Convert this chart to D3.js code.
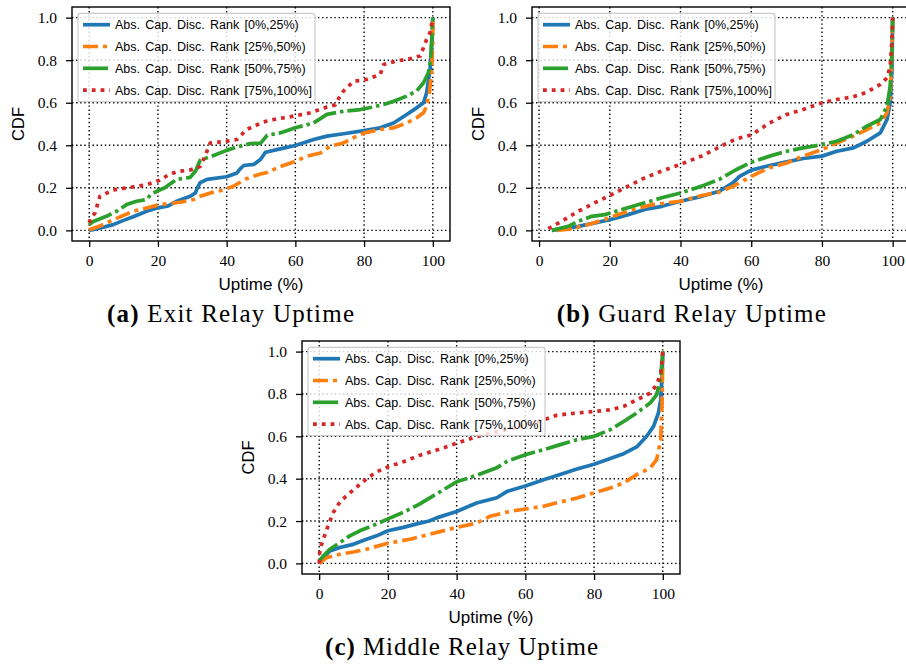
<!DOCTYPE html>
<html>
<head>
<meta charset="utf-8">
<script src="https://cdn.jsdelivr.net/npm/d3@7"></script>
<style>
  body { margin: 0; background: #fff; }
</style>
</head>
<body>
<svg id="vis"></svg>
<script>
// values (uptime %, cdf)
const seriesLabels = [
    "Abs. Cap. Disc. Rank [0%,25%)",
    "Abs. Cap. Disc. Rank [25%,50%)",
    "Abs. Cap. Disc. Rank [50%,75%)",
    "Abs. Cap. Disc. Rank [75%,100%]"
];
const xTicks = [0, 20, 40, 60, 80, 100];
const yTicks = [0, 0.2, 0.4, 0.6, 0.8, 1.0];

const exitRank0 = [[0,0],[3,0.01],[7,0.027],[10,0.047],[13,0.065],[16.7,0.09],[20,0.106],[23,0.115],[25.5,0.137],[29.4,0.16],[30.9,0.176],[31.5,0.2],[32.3,0.224],[34.3,0.24],[40,0.252],[43,0.27],[44,0.29],[45,0.305],[47.9,0.31],[49.9,0.334],[51.3,0.367],[55.6,0.383],[60,0.399],[65.3,0.427],[69.2,0.443],[74,0.454],[80,0.469],[84.7,0.482],[88.6,0.505],[92.4,0.545],[95.3,0.576],[97.3,0.6],[98.2,0.647],[99.2,0.757],[99.7,0.88],[100,1]];
const exitRank25 = [[0,0.003],[3.1,0.02],[7,0.05],[12.9,0.09],[16.7,0.105],[20.5,0.121],[26.5,0.132],[30.4,0.145],[32.3,0.16],[36.2,0.18],[39,0.189],[42,0.208],[45.8,0.243],[49.8,0.265],[51.8,0.272],[55.6,0.3],[60,0.325],[63.4,0.349],[67.3,0.364],[70.2,0.396],[74,0.411],[77.9,0.443],[80,0.458],[84.7,0.474],[88.6,0.482],[92.4,0.505],[95.3,0.529],[97.3,0.553],[98.2,0.584],[99,0.647],[99.7,0.757],[100,0.9],[100,1]];
const exitRank50 = [[0,0.027],[1.2,0.042],[5,0.066],[8,0.09],[10.9,0.121],[13.8,0.137],[16.7,0.145],[18,0.17],[20.5,0.19],[22,0.2],[25.5,0.24],[29.4,0.249],[31,0.28],[32.3,0.33],[36.2,0.352],[40,0.376],[43,0.392],[46.9,0.408],[49.9,0.41],[51.8,0.447],[55.6,0.458],[60,0.482],[65.3,0.505],[69.2,0.545],[74,0.56],[78.9,0.568],[82.7,0.58],[85.7,0.592],[88.6,0.607],[92.4,0.631],[95.3,0.655],[97.3,0.694],[98.7,0.741],[99.4,0.804],[100,1]];
const exitRank75 = [[0,0.035],[0.5,0.06],[1.7,0.082],[3.1,0.16],[7,0.19],[10.9,0.2],[16.7,0.214],[20.5,0.236],[23,0.26],[25.5,0.276],[29.4,0.284],[32.3,0.3],[34,0.36],[35.2,0.41],[40,0.419],[43,0.427],[45.8,0.474],[50.8,0.51],[53.7,0.521],[59.5,0.537],[64.4,0.553],[69.2,0.58],[71.6,0.59],[72.6,0.62],[74,0.655],[76.9,0.7],[80.8,0.71],[84.7,0.733],[85.7,0.78],[89.5,0.796],[93.4,0.807],[96.3,0.82],[97.3,0.859],[98.2,0.898],[99.2,0.93],[100,1]];

const guardRank0 = [[3.6,0],[8.3,0.011],[11.1,0.019],[15.8,0.035],[20,0.05],[25.2,0.074],[29.9,0.098],[34.7,0.113],[40,0.137],[46,0.16],[51,0.184],[54.8,0.223],[56.7,0.254],[60,0.283],[65.2,0.305],[70,0.322],[74.7,0.338],[80,0.349],[84.2,0.372],[88.9,0.388],[92.7,0.419],[96.5,0.458],[98.4,0.521],[99.3,0.6],[99.8,0.757],[100,1]];
const guardRank25 = [[5,0],[8.3,0.006],[13,0.022],[17.7,0.047],[22.4,0.074],[27.1,0.1],[31.8,0.12],[40,0.137],[46,0.164],[51,0.18],[54.8,0.207],[60,0.254],[65.2,0.295],[70,0.317],[74.7,0.349],[80,0.38],[84.2,0.411],[88.9,0.443],[92.7,0.474],[96.5,0.505],[98.4,0.553],[99.3,0.63],[99.8,0.835],[100,1]];
const guardRank50 = [[3.6,0],[8.3,0.019],[11.1,0.043],[14.9,0.066],[18.6,0.074],[23.4,0.098],[29.9,0.13],[34.7,0.153],[40,0.176],[46,0.208],[51,0.24],[55.7,0.285],[60,0.32],[65.2,0.349],[70,0.372],[74.7,0.388],[80,0.403],[84.2,0.419],[88.9,0.45],[92.7,0.49],[96.5,0.521],[98.4,0.584],[99.3,0.678],[99.8,0.835],[100,1]];
const guardRank75 = [[2.6,0.008],[6.4,0.043],[11.1,0.09],[15.8,0.13],[20,0.164],[25.2,0.208],[29.9,0.247],[34.7,0.279],[40,0.31],[46,0.35],[51,0.392],[55.7,0.43],[60,0.448],[65.2,0.505],[70,0.545],[74.7,0.568],[80,0.6],[84.2,0.615],[88.9,0.628],[92.7,0.65],[96.5,0.686],[98.4,0.717],[99.3,0.77],[99.8,0.9],[100,1]];

const middleRank0 = [[0,0],[1.2,0.027],[3.1,0.059],[6,0.075],[9.9,0.09],[13.8,0.114],[16.7,0.13],[20,0.154],[24.5,0.17],[29.3,0.19],[32,0.2],[34.2,0.215],[40,0.245],[45.8,0.285],[51.7,0.31],[54.7,0.34],[60,0.365],[65.3,0.395],[69.2,0.415],[75,0.446],[80,0.468],[84.7,0.495],[88.6,0.518],[92.4,0.55],[95.3,0.6],[97.3,0.647],[98.7,0.71],[99.4,0.772],[99.8,0.898],[100,1]];
const middleRank25 = [[0,0],[2.1,0.027],[6,0.043],[9.9,0.054],[13.8,0.067],[20,0.095],[26.4,0.114],[32.2,0.138],[40,0.17],[45.8,0.19],[49.8,0.223],[55.6,0.246],[60,0.257],[65.3,0.27],[69.2,0.286],[75,0.309],[80,0.333],[84.7,0.356],[88.6,0.38],[92.4,0.419],[96.3,0.45],[98.2,0.49],[99.4,0.584],[99.8,0.772],[100,1]];
const middleRank50 = [[0,0.011],[1.2,0.035],[3.1,0.067],[6,0.098],[8.9,0.13],[11.8,0.154],[16.7,0.186],[20,0.21],[24.5,0.241],[29.3,0.281],[34.2,0.329],[40,0.385],[45.8,0.416],[51.7,0.452],[54.7,0.482],[60,0.513],[65.3,0.537],[69.2,0.556],[75,0.584],[80,0.6],[84.7,0.631],[88.6,0.67],[92.4,0.71],[96.3,0.757],[98.2,0.796],[99.4,0.882],[100,1]];
const middleRank75 = [[0,0],[0.2,0.067],[1.2,0.114],[2.6,0.178],[4.1,0.24],[6,0.289],[8,0.32],[10.9,0.36],[13.8,0.4],[16.7,0.432],[20,0.456],[24.5,0.48],[29.3,0.511],[34.2,0.535],[40,0.567],[45.8,0.598],[51.7,0.622],[60,0.65],[65.3,0.678],[69.2,0.7],[75,0.71],[80,0.717],[84.7,0.725],[88.6,0.741],[92.4,0.772],[96.3,0.804],[98.2,0.843],[99.4,0.898],[100,1]];

const colors = ["#1f77b4", "#ff7f0e", "#2ca02c", "#d62728"];
const dashes = [null, "15,5,4,5", "25,4,3.5,4", "3.8,5"];
const lineWidth = 3.7;

// layout
const panels = [
    {id: "a", title: "Exit Relay Uptime",   left: 72,  top: 7,   w: 378, h: 234, xDomain: [-5, 105],   series: [exitRank0, exitRank25, exitRank50, exitRank75],           capX: 230.5, capY: 321.5, capW: 247},
    {id: "b", title: "Guard Relay Uptime",  left: 532, top: 7,   w: 378, h: 234, xDomain: [-2, 104.9], series: [guardRank0, guardRank25, guardRank50, guardRank75],       capX: 691.3, capY: 321.5, capW: 269},
    {id: "c", title: "Middle Relay Uptime", left: 302, top: 341, w: 378, h: 233, xDomain: [-5, 105],   series: [middleRank0, middleRank25, middleRank50, middleRank75],   capX: 461.6, capY: 655,   capW: 273}
];

const svg = d3.select("#vis")
    .attr("width", 906)
    .attr("height", 665);

panels.forEach(function(p)
{
    const x = d3.scaleLinear().domain(p.xDomain).range([0, p.w]);
    const y = d3.scaleLinear().domain([-0.05, 1.05]).range([p.h, 0]);

    const g = svg.append("g").attr("transform", "translate(" + p.left + "," + p.top + ")");

    g.append("clipPath").attr("id", "clip-" + p.id)
        .append("rect").attr("width", p.w).attr("height", p.h);

    // dotted grid
    const grid = g.append("g");
    grid.selectAll(".gx").data(xTicks).enter().append("line")
        .attr("x1", d => x(d)).attr("x2", d => x(d))
        .attr("y1", 0).attr("y2", p.h);
    grid.selectAll(".gy").data(yTicks).enter().append("line")
        .attr("x1", 0).attr("x2", p.w)
        .attr("y1", d => y(d)).attr("y2", d => y(d));
    grid.selectAll("line")
        .attr("stroke", "#000")
        .attr("stroke-width", 1.4)
        .attr("stroke-dasharray", "1.4,2.7");

    // cdf curves
    const line = d3.line().x(d => x(d[0])).y(d => y(d[1]));
    g.append("g").attr("clip-path", "url(#clip-" + p.id + ")")
        .selectAll("path").data(p.series).enter().append("path")
        .attr("d", line)
        .attr("fill", "none")
        .attr("stroke", (d, i) => colors[i])
        .attr("stroke-width", lineWidth)
        .attr("stroke-linejoin", "round")
        .attr("stroke-dasharray", (d, i) => dashes[i]);

    // axes
    const xAxis = g.append("g").attr("transform", "translate(0," + p.h + ")")
        .call(d3.axisBottom(x).tickValues(xTicks).tickSize(6).tickPadding(8).tickFormat(d3.format("d")));
    const yAxis = g.append("g")
        .call(d3.axisLeft(y).tickValues(yTicks).tickSize(6).tickPadding(9).tickFormat(d3.format(".1f")));
    [xAxis, yAxis].forEach(function(a)
    {
        a.select(".domain").remove();
        a.selectAll(".tick line").attr("stroke", "#000").attr("stroke-width", 1.3);
        a.selectAll("text")
            .attr("font-family", "'Liberation Serif', serif")
            .attr("font-size", 15.5)
            .attr("fill", "#000");
    });

    // frame
    g.append("rect")
        .attr("width", p.w).attr("height", p.h)
        .attr("fill", "none").attr("stroke", "#000").attr("stroke-width", 1.4);

    // axis labels
    g.append("text")
        .attr("x", p.w / 2).attr("y", p.h + 49)
        .attr("text-anchor", "middle")
        .attr("font-family", "'Liberation Sans', sans-serif")
        .attr("font-size", 17)
        .text("Uptime (%)");
    g.append("text")
        .attr("transform", "translate(-48," + (p.h / 2) + ") rotate(-90)")
        .attr("text-anchor", "middle")
        .attr("font-family", "'Liberation Sans', sans-serif")
        .attr("font-size", 16.5)
        .text("CDF");

    // legend
    const leg = g.append("g");
    leg.append("rect")
        .attr("x", 6).attr("y", 6.3).attr("width", 237).attr("height", 88.4).attr("rx", 2.5)
        .attr("fill", "#fff").attr("fill-opacity", 0.8)
        .attr("stroke", "#ccc").attr("stroke-width", 1.2);
    seriesLabels.forEach(function(label, i)
    {
        const ry = 17.7 + i * 21.8;
        leg.append("line")
            .attr("x1", 11).attr("x2", 38).attr("y1", ry).attr("y2", ry)
            .attr("stroke", colors[i]).attr("stroke-width", lineWidth)
            .attr("stroke-dasharray", dashes[i]);
        leg.append("text")
            .attr("x", 43).attr("y", ry + 4.6)
            .attr("font-family", "'Liberation Sans', sans-serif")
            .attr("font-size", 12.5)
            .attr("word-spacing", 1.8)
            .attr("fill", "#000")
            .text(label);
    });

    // sub-figure caption
    const cap = svg.append("text")
        .attr("x", p.capX).attr("y", p.capY)
        .attr("text-anchor", "middle")
        .attr("font-family", "'Liberation Serif', serif")
        .attr("font-size", 25)
        .attr("textLength", p.capW)
        .attr("lengthAdjust", "spacing");
    cap.append("tspan").attr("font-weight", "bold").text("(" + p.id + ")");
    cap.append("tspan").text(" " + p.title);
});
</script>
</body>
</html>
